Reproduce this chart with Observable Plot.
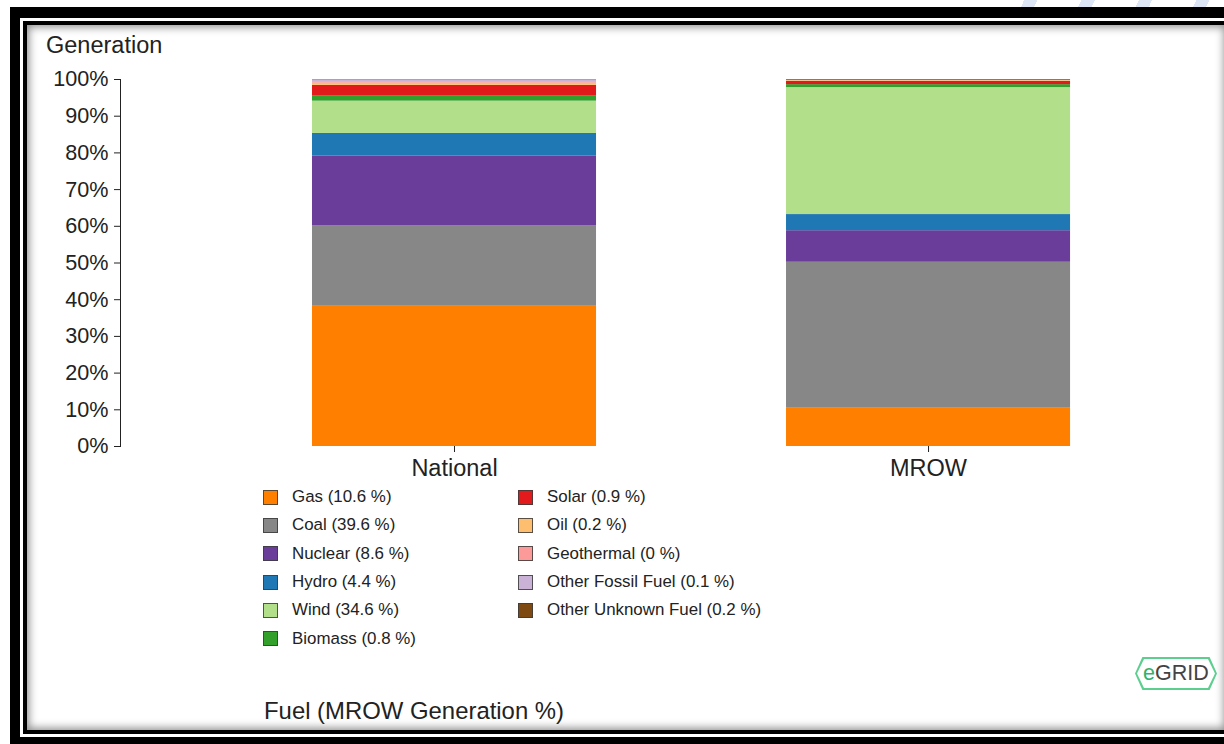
<!DOCTYPE html>
<html>
<head>
<meta charset="utf-8">
<script src="https://cdn.jsdelivr.net/npm/d3@7"></script>
<script src="https://cdn.jsdelivr.net/npm/@observablehq/plot@0.6"></script>
<style>
  html, body { margin: 0; padding: 0; width: 1224px; height: 744px; overflow: hidden; background: #fff; }
  body { font-family: "Liberation Sans", Arial, sans-serif; }
  #stripes { position: absolute; left: 980px; top: 0; width: 244px; height: 744px;
    background: repeating-linear-gradient(115deg, #ffffff 0px, #ffffff 40px, #dde6f4 40px, #dde6f4 52px); }
  #frame { position: absolute; left: 10px; top: 7px; width: 1233px; height: 740px; background: #000;
           box-sizing: border-box; padding: 11px 10px 10px 10px; }
  #gap { width: 100%; height: 100%; border: 3px solid #fff; box-sizing: border-box; }
  #content { position: relative; width: 100%; height: 100%; border: 4px solid #000; box-sizing: border-box;
             background: #fff; box-shadow: inset 0 0 9px 2px rgba(0,0,0,0.45); overflow: hidden; }
  #content > * { position: absolute; }
  .t { color: #222; white-space: nowrap; line-height: 1; }
  #ytitle { left: 19px; top: 9px; font-size: 23.5px; }
  #chart { left: -4px; top: 35px; }
  .leg { font-size: 16.9px; color: #222; white-space: nowrap; line-height: 1; }
  .sw { position: absolute; width: 15px; height: 15px; box-sizing: border-box; border: 1.5px solid rgba(60,60,60,0.85); }
  #foot { left: 237px; top: 674px; font-size: 23.9px; }
  #badge { left: 1108px; top: 632px; width: 82px; height: 33px; }
  .hex { position: absolute; clip-path: polygon(9% 0, 91% 0, 100% 50%, 91% 100%, 9% 100%, 0 50%); }
</style>
</head>
<body>
<div id="stripes"></div>
<div id="frame"><div id="gap"><div id="content">
  <div id="ytitle" class="t">Generation</div>
  <div id="chart"></div>
  <div id="legend"></div>
  <div id="foot" class="t">Fuel (MROW Generation %)</div>
  <div id="badge">
    <div class="hex" style="left:0;top:0;width:82px;height:33px;background:#5ccf8f;"></div>
    <div class="hex" style="left:2px;top:2px;width:78px;height:29px;background:#fff;"></div>
    <div style="position:absolute;left:8px;top:6px;font-size:21.5px;line-height:1;white-space:nowrap;"><span style="color:#2fb36c">e</span><span style="color:#444">GRID</span></div>
  </div>
</div></div></div>
<script>
// ---- data ----
const regions = ["National", "MROW"];
const fuels = ["Gas", "Coal", "Nuclear", "Hydro", "Wind", "Biomass", "Solar", "Oil", "Geothermal", "Other Fossil Fuel", "Other Unknown Fuel"];
const fuelColors = ["#ff7f00", "#878787", "#6a3d9a", "#1f78b4", "#b2df8a", "#33a02c", "#e31a1c", "#fdbf6f", "#fb9a99", "#cab2d6", "#7f4a12"];
const nationalValues = [38.4, 21.8, 18.9, 6.2, 8.8, 1.5, 2.8, 0.6, 0.4, 0.5, 0.1];
const mrowValues = [10.6, 39.6, 8.6, 4.4, 34.6, 0.8, 0.9, 0.2, 0, 0.1, 0.2];
const yTicks = [0, 10, 20, 30, 40, 50, 60, 70, 80, 90, 100];

const valuesByRegion = {National: nationalValues, MROW: mrowValues};
const data = regions.flatMap(r => fuels.map((f, i) => ({region: r, fuel: f, value: valuesByRegion[r][i]})));

const chart = Plot.plot({
  width: 1203,
  height: 426,
  marginTop: 19,
  marginBottom: 40,
  marginLeft: 97,
  marginRight: 0,
  style: {fontFamily: "'Liberation Sans', Arial, sans-serif", color: "#222", background: "transparent", overflow: "visible"},
  x: {domain: regions, paddingInner: 0.4008, paddingOuter: 0.367, align: 0.5518, round: false, label: null},
  y: {domain: [0, 100], label: null},
  color: {domain: fuels, range: fuelColors},
  marks: [
    Plot.barY(data, {x: "region", y: "value", fill: "fuel", insetLeft: 0, insetRight: 0}),
    Plot.axisY({ticks: yTicks, tickFormat: d => d + "%", tickSize: 6, tickPadding: 6, fontSize: 21.6, label: null}),
    Plot.frame({anchor: "left"}),
    Plot.axisX({tickSize: 6, tickPadding: 7, fontSize: 23.5, label: null})
  ]
});
document.getElementById("chart").appendChild(chart);

// ---- legend (HTML) ----
const legend = document.getElementById("legend");
legend.style.left = "0px"; legend.style.top = "0px";
const rowTops = [464.5, 492.8, 521.2, 549.5, 577.8, 606.2];
fuels.forEach((f, i) => {
  const col = i < 6 ? 0 : 1;
  const row = i < 6 ? i : i - 6;
  const x0 = col === 0 ? 236 : 491;
  const sw = document.createElement("div");
  sw.className = "sw";
  sw.style.left = x0 + "px";
  sw.style.top = rowTops[row] + "px";
  sw.style.background = fuelColors[i];
  legend.appendChild(sw);
  const lab = document.createElement("div");
  lab.className = "leg";
  lab.style.position = "absolute";
  lab.style.left = (x0 + 29) + "px";
  lab.style.top = (rowTops[row] - 0.5) + "px";
  lab.textContent = `${f} (${mrowValues[i]} %)`;
  legend.appendChild(lab);
});
</script>
</body>
</html>
